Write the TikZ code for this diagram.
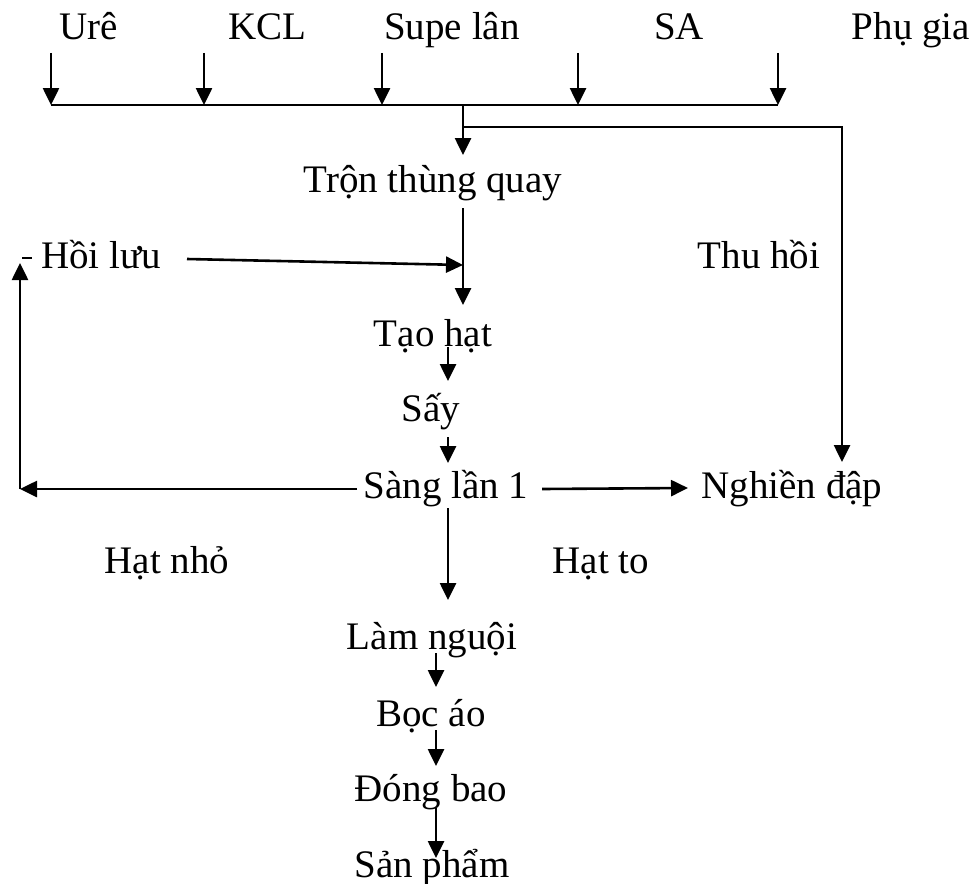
\documentclass[tikz,border=0pt]{standalone}
\usepackage{fontspec}
\setmainfont{Liberation Serif}
\usetikzlibrary{arrows.meta}
\begin{document}
\begin{tikzpicture}[x=1pt,y=-1pt,
  lbl/.style={anchor=base, inner sep=0pt, font=\fontsize{39}{41}\selectfont},
  ln/.style={line width=2.6pt},
  arr/.style={ln, -{Triangle[length=17pt,width=16pt]}}]
\useasboundingbox (0,0) rectangle (976,883);
% labels
\node[lbl] (ure)  at (89,40)  {Urê};
\node[lbl] (kcl)  at (267,40) {KCL};
\node[lbl] (supe) at (452,40) {Supe lân};
\node[lbl] (sa)   at (679,40) {SA};
\node[lbl] (phu)  at (911,40) {Phụ gia};
\node[lbl] (tron) at (433,192) {Trộn thùng quay};
\node[lbl] (hoi)  at (101,268) {Hồi lưu};
\node[lbl] (thu)  at (759,268) {Thu hồi};
\node[lbl] (tao)  at (433,346) {Tạo hạt};
\node[lbl] (say)  at (431,421) {Sấy};
\node[lbl] (sang) at (446,498) {Sàng lần 1};
\node[lbl] (ngh)  at (792,498) {Nghiền đập};
\node[lbl] (nho)  at (167,573) {Hạt nhỏ};
\node[lbl] (to)   at (601,573) {Hạt to};
\node[lbl] (lam)  at (432,649) {Làm nguội};
\node[lbl] (boc)  at (431,726) {Bọc áo};
\node[lbl] (dong) at (431,801) {Đóng bao};
\node[lbl] (san)  at (432,877) {Sản phẩm};
% coordinates
\foreach \n/\x in {1/51,2/204,3/382,4/578,5/778}{
  \coordinate (t\n) at (\x,53);
  \coordinate (b\n) at (\x,105);
}
\coordinate (j)  at (463,105);
\coordinate (k)  at (463,127);
\coordinate (kr) at (842,127);
\coordinate (ng) at (842,462);
\coordinate (trt) at (463,155);
\coordinate (trb) at (463,208);
\coordinate (h)  at (463,265);
\coordinate (taot) at (463,305);
\coordinate (hoie) at (187,259);
\coordinate (taob) at (448,347);
\coordinate (sayt) at (448,381);
\coordinate (sayb) at (448,437);
\coordinate (sangt) at (448,463);
\coordinate (sl) at (357,489);
\coordinate (sr) at (542,489);
\coordinate (ngl) at (688,488);
\coordinate (lc) at (20,489);
\coordinate (lt) at (20,263);
\coordinate (d1) at (22,258);
\coordinate (d2) at (32,258);
\coordinate (sangb) at (448,508);
\coordinate (lamt) at (448,600);
\coordinate (lamb) at (436,653);
\coordinate (boct) at (436,687);
\coordinate (bocb) at (436,730);
\coordinate (dongt) at (436,766);
\coordinate (dongb) at (436,808);
\coordinate (sant) at (436,858);
% top arrows
\foreach \n in {1,...,5}{\draw[arr] (t\n) -- (b\n);}
\draw[ln] (b1) -- (b5);
\draw[arr] (j) -- (trt);
\draw[arr] (k) -- (kr) -- (ng);
\draw[arr] (trb) -- (taot);
\draw[arr] (hoie) -- (h);
\draw[arr] (taob) -- (sayt);
\draw[arr] (sayb) -- (sangt);
\draw[arr] (sl) -- (lc);
\draw[arr] (lc) -- (lt);
\draw[ln] (d1) -- (d2);
\draw[arr] (sr) -- (ngl);
\draw[arr] (sangb) -- (lamt);
\draw[arr] (lamb) -- (boct);
\draw[arr] (bocb) -- (dongt);
\draw[arr] (dongb) -- (sant);
\end{tikzpicture}
\end{document}
